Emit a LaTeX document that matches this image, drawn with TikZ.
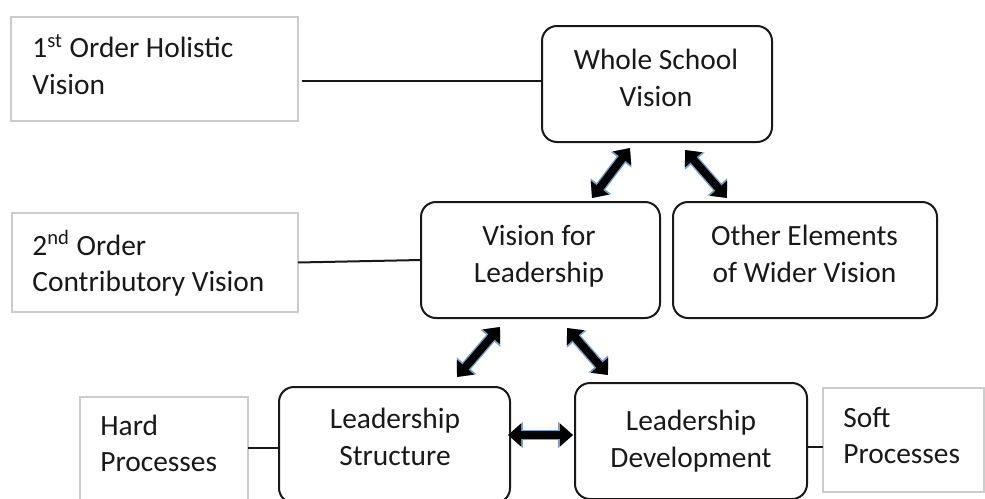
\documentclass[tikz,border=0pt]{standalone}
\usepackage{fontspec}
\setmainfont{Carlito}
\usetikzlibrary{arrows.meta,calc}
\newcommand{\mystr}{\rule[-3pt]{0pt}{13.5pt}}
\definecolor{glowblue}{RGB}{120,160,205}
\tikzset{
  rbox/.style={draw=black!90, line width=1pt, rounded corners=7.5pt, inner sep=0pt, outer sep=0pt},
  lbox/.style={draw=black!20, line width=1pt, inner sep=0pt, outer sep=0pt},
  txt/.style={inner sep=0pt, align=center, text=black!90, font=\fontsize{14.7}{18.2}\selectfont},
  ltxt/.style={inner sep=0pt, align=left, anchor=west, text=black!90, font=\fontsize{14.7}{18.2}\selectfont},
  conn/.style={draw=black!90, line width=1pt},
  glow/.style={draw=glowblue, line width=5.4pt,
    {Triangle[length=7.4pt,width=12.6pt]}-{Triangle[length=7.4pt,width=12.6pt]}},
  barrow/.style={draw=black, fill=black, line width=4pt,
    {Triangle[length=6.5pt,width=11pt]}-{Triangle[length=6.5pt,width=11pt]}}
}
\begin{document}
\begin{tikzpicture}[x=0.5pt, y=-0.5pt]
\useasboundingbox (0,0) rectangle (985,498);
\clip (0,0) rectangle (985,498);
\fill[white] (0,0) rectangle (985,498);

% main boxes
\node[rbox, minimum width=115pt, minimum height=58pt] (wsv) at (657,84) {};
\node[rbox, minimum width=119.5pt, minimum height=58pt] (vfl) at (540.5,260) {};
\node[rbox, minimum width=132pt, minimum height=58pt] (oth) at (805,260) {};
\node[rbox, minimum width=115.5pt, minimum height=58pt] (ls) at (394.5,445) {};
\node[rbox, minimum width=116pt, minimum height=58pt] (ld) at (691,441) {};

% label boxes
\node[lbox, minimum width=143.5pt, minimum height=52pt] (lab1) at (154.5,69) {};
\node[lbox, minimum width=143pt, minimum height=49.5pt] (lab2) at (155,262.5) {};
\node[lbox, minimum width=84pt, minimum height=54pt] (hard) at (164,451) {};
\node[lbox, minimum width=80.5pt, minimum height=52pt] (soft) at (903.5,440) {};

% texts
\node[txt] (wsvT) at (656,80.5) {\mystr Whole School\\Vision\mystr};
\node[txt] (vflT) at (539,256.5) {\mystr Vision for\\Leadership\mystr};
\node[txt] (othT) at (804.5,256.5) {\mystr Other Elements\\of Wider Vision\mystr};
\node[txt] (lsT) at (395,439.5) {\mystr Leadership\\Structure\mystr};
\node[txt] (ldT) at (691,441.5) {\mystr Leadership\\Development\mystr};
\node[ltxt] (lab1T) at (32,67.25) {\mystr 1\textsuperscript{st} Order Holistic\\Vision\mystr};
\node[ltxt] (lab2T) at (32,264) {\mystr 2\textsuperscript{nd} Order\\Contributory Vision\mystr};
\node[ltxt] (hardT) at (100,446.25) {\mystr Hard\\Processes\mystr};
\node[ltxt] (softT) at (843,438.25) {\mystr Soft\\Processes\mystr};

% plain connectors
\draw[conn] ([shift={(4,12)}]lab1.east) -- ([shift={(0,-3)}]wsv.west);
\draw[conn] (lab2.east) -- (vfl.west);
\draw[conn] ([shift={(0,-3)}]hard.east) -- ([shift={(0,3)}]ls.west);
\draw[conn] ([shift={(0,6)}]ld.east) -- ([shift={(0,7)}]soft.west);

% arrow end points
\coordinate (a1t) at ([shift={(-27,6)}]wsv.south);
\coordinate (a1b) at ([shift={(51.5,-4)}]vfl.north);
\coordinate (a2t) at ([shift={(28,8)}]wsv.south);
\coordinate (a2b) at ([shift={(-78,-4)}]oth.north);
\coordinate (a3t) at ([shift={(-40.5,9)}]vfl.south);
\coordinate (a3b) at ([shift={(62.5,-10)}]ls.north);
\coordinate (a4t) at ([shift={(26.5,10)}]vfl.south);
\coordinate (a4b) at ([shift={(-83,-8)}]ld.north);
\coordinate (a5l) at ([shift={(-2,-10)}]ls.east);
\coordinate (a5r) at ([shift={(-2,-6)}]ld.west);

% glow underlay
\draw[glow] (a1t) -- (a1b);
\draw[glow] (a2t) -- (a2b);
\draw[glow] (a3t) -- (a3b);
\draw[glow] (a4t) -- (a4b);
\draw[glow] (a5l) -- (a5r);
% thick double arrows
\draw[barrow] (a1t) -- (a1b);
\draw[barrow] (a2t) -- (a2b);
\draw[barrow] (a3t) -- (a3b);
\draw[barrow] (a4t) -- (a4b);
\draw[barrow] (a5l) -- (a5r);
\end{tikzpicture}
\end{document}
